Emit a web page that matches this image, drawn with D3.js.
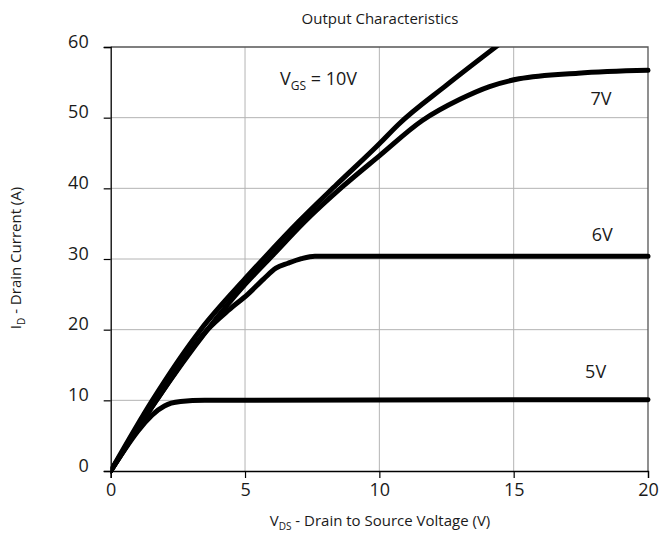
<!DOCTYPE html>
<html><head><meta charset="utf-8">
<script src="https://cdn.jsdelivr.net/npm/d3@7"></script>
<style>body{margin:0;background:#fff}svg{display:block}text{font-family:"Open Sans",sans-serif}</style>
</head><body><svg id="c" width="664" height="534"></svg>
<script>
const xTicks = [0, 5, 10, 15, 20];
const yTicks = [0, 10, 20, 30, 40, 50, 60];
const seriesNames = ["10V", "7V", "6V", "5V"];
const vgs10 = [[0,0],[1.55,10],[3.35,20],[5,27.2],[5.75,30.3],[7,35.3],[8.4,40.5],[10,46.3],[10.7,49],[12.5,54.6],[14.4,60.2]];
const vgs7 = [[0,0],[1.7,10],[3.6,20],[5,26.4],[6.05,30.6],[7.2,35.2],[8.65,40.3],[10,44.6],[11.6,49.6],[13,52.6],[14.1,54.4],[15.2,55.5],[17.4,56.3],[20,56.7]];
const vgs6 = [[0,0],[1.7,10],[3.6,20],[4.4,22.8],[5.1,25],[5.7,27.2],[6.15,28.7],[6.6,29.4],[7.1,30.05],[7.6,30.4],[20,30.4]];
const vgs5 = [[0,0],[2.0,9.2],[2.25,9.6],[2.6,9.85],[3.5,10.0],[20,10.1]];
const labels = [{t:"7V", x:18.25, y:51.8},{t:"6V", x:18.3, y:32.5},{t:"5V", x:18.05, y:13.2}];

const svg = d3.select("#c");
const L=110.7, R=648, T=47, B=471;
const x = d3.scaleLinear().domain([0,20]).range([L,R]);
const y = d3.scaleLinear().domain([0,60]).range([B,T]);

// grid
svg.append("g").selectAll("line").data(xTicks.slice(1,-1)).join("line")
  .attr("x1",d=>x(d)).attr("x2",d=>x(d)).attr("y1",T).attr("y2",B)
  .attr("stroke","#b4b4b4").attr("stroke-width",1);
svg.append("g").selectAll("line").data(yTicks.slice(1,-1)).join("line")
  .attr("x1",L).attr("x2",R).attr("y1",d=>y(d)).attr("y2",d=>y(d))
  .attr("stroke","#b4b4b4").attr("stroke-width",1);
// frame top/right
svg.append("path").attr("d",`M${L},${T}H${R}V${B}`).attr("fill","none").attr("stroke","#555").attr("stroke-width",1.3);

// axes
const xa = svg.append("g").attr("transform",`translate(0,${B})`)
  .call(d3.axisBottom(x).tickValues(xTicks).tickSize(7).tickPadding(3).tickFormat(d3.format("d")));
const ya = svg.append("g").attr("transform",`translate(${L},0)`)
  .call(d3.axisLeft(y).tickValues(yTicks).tickSize(7).tickPadding(15).tickFormat(d3.format("d")));
[xa,ya].forEach(a=>{a.select(".domain").attr("stroke","#000").attr("stroke-width",1.3);
  a.selectAll(".tick line").attr("stroke","#000").attr("stroke-width",1.2);
  a.selectAll("text").attr("font-size",18).attr("fill","#1a1a1a").attr("font-family","'Open Sans',sans-serif");});
ya.selectAll("text").attr("dy","0.0em");
xa.selectAll("text").attr("dy","0.85em");

// clip
svg.append("clipPath").attr("id","clip").append("rect").attr("x",L).attr("y",T).attr("width",R-L+4).attr("height",B-T+4);
const line = d3.line().x(d=>x(d[0])).y(d=>y(d[1])).curve(d3.curveMonotoneX);
const g = svg.append("g").attr("clip-path","url(#clip)");
[vgs10,vgs7,vgs6,vgs5].forEach((s,i)=>{
  g.append("path").datum(s).attr("d",line).attr("fill","none").attr("stroke","#000")
   .attr("stroke-width",5).attr("stroke-linejoin","round").attr("stroke-linecap","round")
   .attr("class","s-"+seriesNames[i]);
});

// annotations
const vg = svg.append("text").attr("x",x(6.3)).attr("y",y(54.6)).attr("font-size",18).attr("fill","#1a1a1a");
vg.append("tspan").text("V");
vg.append("tspan").text("GS").attr("font-size",12).attr("dy",5);
vg.append("tspan").text(" = 10V").attr("dy",-5);
labels.forEach(l=>svg.append("text").attr("x",x(l.x)).attr("y",y(l.y)).attr("font-size",18).attr("fill","#1a1a1a").attr("text-anchor","middle").text(l.t));

// title
svg.append("text").attr("x",380).attr("y",24).attr("text-anchor","middle").attr("font-size",15).attr("fill","#1a1a1a").text("Output Characteristics");
// x label
const xl = svg.append("text").attr("x",380).attr("y",526).attr("text-anchor","middle").attr("font-size",15).attr("fill","#1a1a1a");
xl.append("tspan").text("V");
xl.append("tspan").text("DS").attr("font-size",10).attr("dy",4);
xl.append("tspan").text(" - Drain to Source Voltage (V)").attr("dy",-4);
// y label
const yl = svg.append("text").attr("transform","translate(21,258) rotate(-90)").attr("text-anchor","middle").attr("font-size",15).attr("fill","#1a1a1a");
yl.append("tspan").text("I");
yl.append("tspan").text("D").attr("font-size",10).attr("dy",4);
yl.append("tspan").text(" - Drain Current (A)").attr("dy",-4);
</script></body></html>
